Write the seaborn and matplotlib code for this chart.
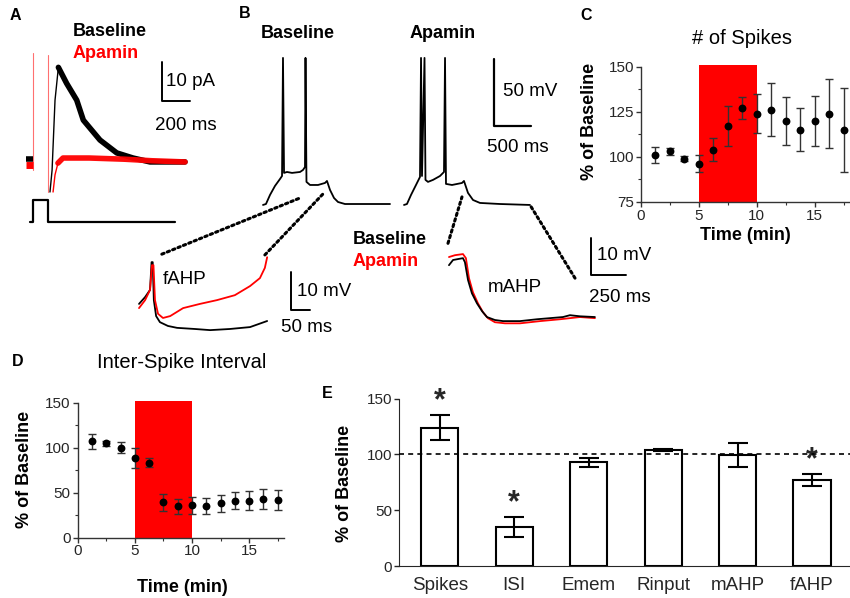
import numpy as np
import pandas as pd
import matplotlib
matplotlib.use("Agg")
import matplotlib.pyplot as plt
import seaborn as sns
from matplotlib.ticker import MultipleLocator
from matplotlib.patches import ConnectionPatch

# ---- data ----
time_min = [1.25, 2.5, 3.75, 5, 6.25, 7.5, 8.75, 10, 11.25, 12.5, 13.75, 15, 16.25, 17.5]
spikes_pct = [101, 103, 99, 96, 104, 117, 127, 124, 126, 120, 115, 120, 124, 115]
spikes_sem = [4.3, 2, 1.5, 4.7, 6.5, 11.3, 6, 10.7, 14.7, 13.3, 12, 14, 19.4, 23.4]
isi_pct = [107.4, 105, 100, 88.6, 83.5, 39.3, 34.9, 35.7, 34.9, 37.9, 41.2, 41.2, 43, 41.5]
isi_sem = [8.3, 3, 6, 11, 5.5, 9.5, 8.5, 9.2, 9.2, 9.7, 9.8, 10.7, 11, 11.2]
apamin_window = [5, 10]

measures = ["Spikes", "ISI", "Emem", "Rinput", "mAHP", "fAHP"]
measure_pct = [124, 35, 93, 104, 99.5, 77]
measure_sem = [11, 9, 4, 0.7, 11, 5.6]
significant = [True, True, False, False, False, True]

# panel A: SK current (ms, pA)
a_pre_t = [0, 50]
a_pre_base_pA = [1.1, 1.1]
a_pre_apa_pA = [-0.6, -0.6]
a_base_t = [171, 186, 207, 231, 290, 362, 409, 528, 648, 764, 885, 1135]
a_base_pA = [-7.4, -1.8, 16.1, 24.5, 20.4, 16.1, 11.0, 5.9, 2.6, 1.3, 0.3, 0.3]
a_apa_t = [193, 207, 228, 264, 450, 700, 900, 1135]
a_apa_pA = [-7.4, -3, 0, 1.3, 1.3, 1.0, 0.6, 0.3]
a_artifact_t = [52, 155]
a_artifact_top = [28.2, 27.6]
a_artifact_bot = [-1.8, -7.4]
a_step_t = [29, 50, 50, 157, 157, 1064]
a_step_pA = [-15.1, -15.1, -9.5, -9.5, -15.1, -15.1]

# panel B: firing (ms, mV)
b_base_t = [0, 40, 95, 162, 230, 257, 270, 284, 324, 392, 500, 540, 567, 574, 587,
            635, 743, 837, 864, 905, 959, 1013, 1107, 1715]
b_base_mV = [-65, -64.3, -57.5, -50.8, -45.6, -43.4, 44.7, -41.1, -40.4, -41.1, -40.4,
             -38.9, -36.7, 44.7, -47.8, -50.1, -50.1, -48.6, -47.1, -53.8, -59.8,
             -62.8, -64.3, -64.3]
b_apa_t = [0, 40, 95, 162, 216, 230, 243, 277, 290, 324, 392, 486, 540, 554, 567,
           648, 783, 810, 864, 932, 1026, 1296, 1701]
b_apa_mV = [-65, -64.3, -57.5, -50.1, -44.1, 44.7, -43.4, 44.7, -46.3, -47.8, -46.3,
            -43.4, -40.4, 44.7, -49.3, -50.1, -48.6, -47.1, -56.0, -61.3, -63.5,
            -64.3, -65]

# fAHP inset (ms, mV)
f_base_t = [0, 16, 29, 33, 36, 39, 45, 55, 76, 100, 147, 187, 239, 292, 337]
f_base_mV = [-46.3, -44.5, -42.6, -35.3, -35.3, -45.3, -49.5, -51.1, -52.1, -52.6,
             -52.9, -53.2, -52.9, -52.4, -50.8]
f_apa_t = [0, 16, 29, 34, 38, 42, 50, 63, 82, 116, 160, 205, 252, 292, 318, 331, 337]
f_apa_mV = [-47.4, -45.3, -42.6, -36.1, -36.1, -45.3, -48.9, -50, -49.5, -47.4,
            -46.3, -45.3, -44, -41.6, -39.5, -36.8, -34]

# mAHP inset (ms, mV)
m_base_t = [0, 29, 100, 114, 136, 164, 200, 236, 271, 328, 386, 507, 628, 721, 814,
            864, 935, 1042]
m_base_mV = [-35.7, -34.3, -33.8, -34.9, -39.7, -43.3, -46, -48.1, -49.7, -50.5,
             -50.8, -50.8, -50.3, -50, -49.7, -49.2, -49.5, -49.7]
m_apa_t = [0, 43, 100, 121, 143, 171, 207, 243, 278, 328, 400, 507, 650, 793, 935, 1042]
m_apa_mV = [-33.5, -33, -32.7, -33.8, -39.2, -43, -46, -48.4, -50, -51.1, -51.4,
            -51.4, -50.8, -50.3, -49.7, -50]

RED = "#ff0000"
W, H = 850, 598

sns.set_style("ticks")
plt.rcParams["font.family"] = ["Liberation Sans", "DejaVu Sans"]
NARROW = ["Liberation Sans Narrow", "Liberation Sans", "DejaVu Sans"]

fig = plt.figure(figsize=(8.5, 5.98), dpi=100)


def px_axes(left, top, right, bottom, off=True):
    ax = fig.add_axes([left / W, 1 - bottom / H, (right - left) / W, (bottom - top) / H])
    if off:
        ax.axis("off")
    return ax


# overlay for labels
ov = fig.add_axes([0, 0, 1, 1])
ov.set_xlim(0, W)
ov.set_ylim(H, 0)
ov.axis("off")


def label(x, y, s, size=13.5, weight="normal", color="black", ha="left", **kw):
    ov.text(x, y, s, fontsize=size, fontweight=weight, color=color, ha=ha, va="center", **kw)


# ---- Panel A ----
ax_a = px_axes(20, 40, 200, 235)
ax_a.set_xlim(-43, 1242)
ax_a.set_ylim(-18.4, 31.5)
for t, top, bot in zip(a_artifact_t, a_artifact_top, a_artifact_bot):
    ax_a.plot([t, t], [bot, top], color="#ff7070", lw=0.8)
ax_a.plot(a_pre_t, a_pre_apa_pA, color=RED, lw=5, solid_capstyle="butt")
ax_a.plot(a_pre_t, a_pre_base_pA, color="black", lw=4, solid_capstyle="butt")
ax_a.plot(a_apa_t[:3], a_apa_pA[:3], color=RED, lw=1)
ax_a.plot(a_base_t[:4], a_base_pA[:4], color="black", lw=1)
ax_a.plot(a_base_t[3:], a_base_pA[3:], color="black", lw=4)
ax_a.plot(a_apa_t[2:], a_apa_pA[2:], color=RED, lw=4, alpha=0.95)
ax_a.plot(a_step_t, a_step_pA, color="black", lw=1.6)
ax_a.plot([971, 971, 1171], [25.9, 15.9, 15.9], color="black", lw=1.4)

label(10, 16, "A", size=11.5, weight="bold")
label(73, 31, "Baseline", size=13, weight="bold")
label(73, 53, "Apamin", size=13, weight="bold", color=RED)
label(166, 81, "10 pA")
label(186, 125, "200 ms", ha="center")

# ---- Panel B ----
ax_bb = px_axes(255, 50, 400, 215)
ax_ba = px_axes(396, 50, 541, 215)
for ax in (ax_bb, ax_ba):
    ax.set_xlim(-108, 1850)
    ax.set_ylim(-72.5, 50.6)
ax_bb.plot(b_base_t, b_base_mV, color="black", lw=1.3)
ax_ba.plot(b_apa_t, b_apa_mV, color="black", lw=1.3)
ax_ba.plot([1215, 1215, 1715], [43.9, -6.1, -6.1], color="black", lw=1.6, clip_on=False)

label(239, 14, "B", size=11.5, weight="bold")
label(298, 33, "Baseline", size=13, weight="bold", ha="center")
label(443, 33, "Apamin", size=13, weight="bold", ha="center")
label(503, 91, "50 mV")
label(487, 148, "500 ms")

# fAHP inset
ax_f = px_axes(130, 250, 320, 340)
ax_f.set_xlim(-23.7, 476)
ax_f.set_ylim(-55.8, -32.1)
ax_f.plot(f_base_t, f_base_mV, color="black", lw=1.3)
ax_f.plot(f_apa_t, f_apa_mV, color=RED, lw=1.3)
ax_f.plot([400, 400, 450], [-38, -48, -48], color="black", lw=1.4)
label(163, 280, "fAHP")
label(297, 292, "10 mV")
label(281, 327, "50 ms")

# mAHP inset
ax_m = px_axes(440, 240, 640, 330)
ax_m.set_xlim(-64, 1364)
ax_m.set_ylim(-53.2, -28.9)
ax_m.plot(m_apa_t, m_apa_mV, color=RED, lw=1.3)
ax_m.plot(m_base_t, m_base_mV, color="black", lw=1.3)
ax_m.plot([1014, 1014, 1264], [-28.4, -38.4, -38.4], color="black", lw=1.4, clip_on=False)
label(488, 288, "mAHP")
label(597, 255, "10 mV")
label(589, 298, "250 ms")
label(353, 239, "Baseline", size=13, weight="bold")
label(353, 262, "Apamin", size=13, weight="bold", color=RED)

# dotted connectors between traces and insets
links = [
    (ax_f, (60, -33.2), ax_bb, (500, -59.8)),
    (ax_f, (331, -33.4), ax_bb, (810, -56.8)),
    (ax_m, (-7, -29.8), ax_ba, (783, -59.0)),
    (ax_m, (900, -39.2), ax_ba, (1701, -65)),
]
for axA, xyA, axB, xyB in links:
    con = ConnectionPatch(xyA=xyA, coordsA=axA.transData, xyB=xyB, coordsB=axB.transData,
                          color="black", lw=2.2, linestyle=(0, (0.8, 1.1)))
    fig.add_artist(con)


# ---- Panels C and D ----
def time_course(ax, values, errs, ylim, major):
    ax.axvspan(apamin_window[0], apamin_window[1], ymin=0, ymax=1.01, color=RED,
               lw=0, zorder=0, clip_on=False)
    ax.errorbar(time_min, values, yerr=errs, fmt="none", ecolor="#333333",
                elinewidth=1, capsize=3, capthick=1, zorder=2)
    sns.scatterplot(x=time_min, y=values, color="black", s=32, linewidth=0,
                    ax=ax, zorder=3)
    ax.set_xlim(0, 18.05)
    ax.set_ylim(*ylim)
    ax.xaxis.set_major_locator(MultipleLocator(5))
    ax.xaxis.set_minor_locator(MultipleLocator(2.5))
    ax.yaxis.set_major_locator(MultipleLocator(major))
    ax.yaxis.set_minor_locator(MultipleLocator(major / 2))
    ax.tick_params(which="major", length=3.5, width=1, color="#333333", pad=1.5)
    ax.tick_params(which="minor", length=2, width=0.8, color="#333333")
    for lab in ax.get_xticklabels() + ax.get_yticklabels():
        lab.set_family(NARROW)
        lab.set_fontsize(11)
    sns.despine(ax=ax)
    for s in ("left", "bottom"):
        ax.spines[s].set_color("#333333")
        ax.spines[s].set_linewidth(1)
    ax.set_xlabel("")
    ax.set_ylabel("")


ax_c = px_axes(641, 66.7, 850, 201.7, off=False)
time_course(ax_c, spikes_pct, spikes_sem, (75, 150), 25)
label(742, 38, "# of Spikes", size=14.5, ha="center")
label(590, 121, "% of Baseline", size=13, weight="bold", ha="center", rotation=90)
label(745, 236, "Time (min)", size=13, weight="bold", ha="center")
label(580, 15, "C", size=11.5, weight="bold")

ax_d = px_axes(77.7, 402.8, 284, 537.5, off=False)
time_course(ax_d, isi_pct, isi_sem, (0, 150), 50)
label(182, 363, "Inter-Spike Interval", size=14.5, ha="center")
label(25, 469, "% of Baseline", size=13, weight="bold", ha="center", rotation=90)
label(182, 587, "Time (min)", size=13, weight="bold", ha="center")
label(12, 362, "D", size=11.5, weight="bold")

# ---- Panel E ----
ax_e = px_axes(399.3, 398.5, 850, 566, off=False)
df_e = pd.DataFrame({"measure": measures, "pct": measure_pct})
sns.barplot(data=df_e, x="measure", y="pct", color="white", edgecolor="black",
            linewidth=1.5, width=0.5, ax=ax_e, zorder=2)
ax_e.errorbar(range(len(measures)), measure_pct, yerr=measure_sem, fmt="none",
              ecolor="black", elinewidth=1.5, capsize=7, capthick=1.5, zorder=3)
ax_e.axhline(100, color="black", lw=1.2, linestyle=(0, (3, 2.5)), zorder=4)
for i, (v, e, sig) in enumerate(zip(measure_pct, measure_sem, significant)):
    if sig:
        ax_e.text(i, v + e - 1, "*", ha="center", va="bottom", fontsize=22,
                  fontweight="bold", clip_on=False)
ax_e.set_xlim(-0.545, 5.51)
ax_e.set_ylim(0, 150)
ax_e.yaxis.set_major_locator(MultipleLocator(50))
ax_e.tick_params(axis="y", length=3.5, width=1, pad=1.5)
ax_e.tick_params(axis="x", length=0, pad=8, labelsize=13.5)
for lab in ax_e.get_yticklabels():
    lab.set_family(NARROW)
    lab.set_fontsize(11)
sns.despine(ax=ax_e)
ax_e.set_xlabel("")
ax_e.set_ylabel("")
label(345, 483, "% of Baseline", size=13, weight="bold", ha="center", rotation=90)
label(322, 393, "E", size=11.5, weight="bold")

fig.savefig("out.png", dpi=100)
